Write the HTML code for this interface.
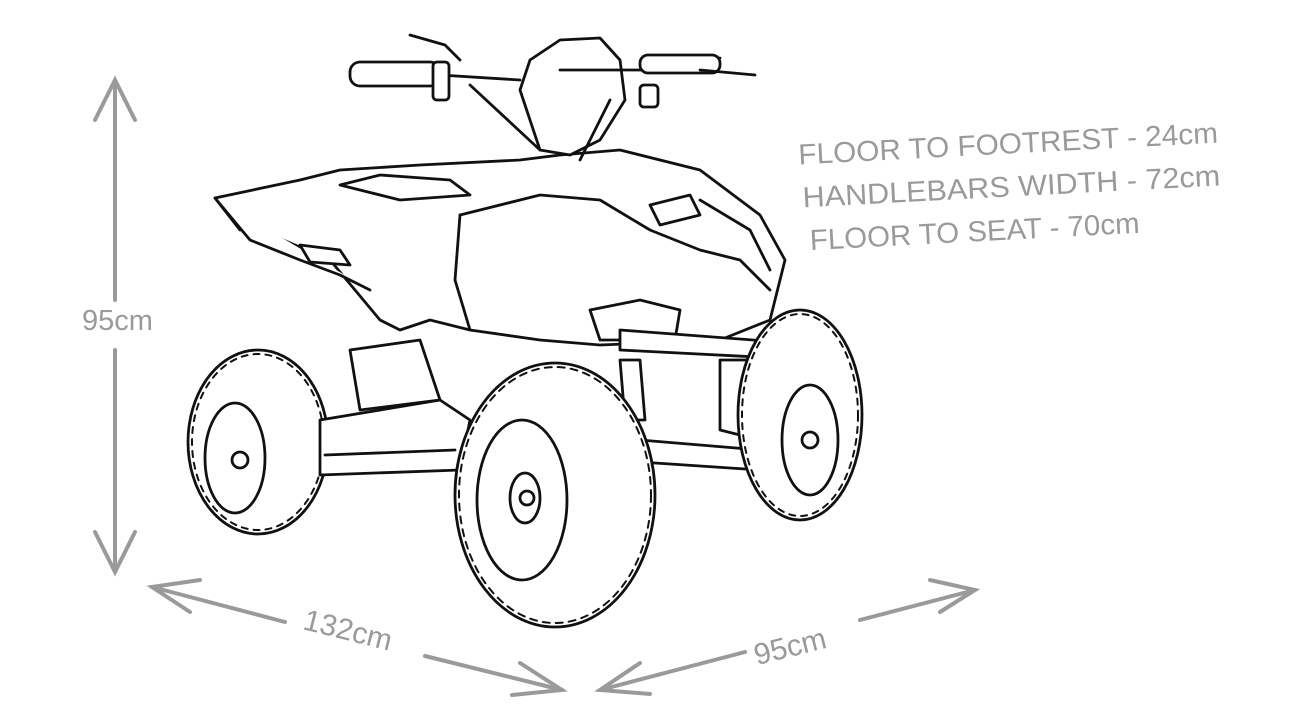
<!DOCTYPE html>
<html><head><meta charset="utf-8"><style>
html,body{margin:0;padding:0;background:#fff;width:1290px;height:719px;overflow:hidden}
svg{display:block}
text{font-family:"Liberation Sans",sans-serif;fill:#9a9a9a}
</style></head><body>
<svg width="1290" height="719" viewBox="0 0 1290 719">
<g stroke="#9a9a9a" stroke-width="4" fill="none" stroke-linecap="round">
<line x1="115" y1="84" x2="115" y2="300"/><line x1="115" y1="350" x2="115" y2="570"/>
<polyline points="95,120 115,80 135,120"/><polyline points="95,532 115,572 135,532"/>
<line x1="152" y1="587" x2="285" y2="622"/><line x1="425" y1="656" x2="562" y2="690"/>
<polyline points="200,580 152,587 190,612"/><polyline points="520,663 562,690 512,695"/>
<line x1="600" y1="690" x2="745" y2="652"/><line x1="860" y1="620" x2="975" y2="590"/>
<polyline points="640,663 600,690 650,694"/><polyline points="930,580 975,590 940,612"/>
</g>
<text x="82" y="330" font-size="29">95cm</text>
<text x="302" y="642" font-size="30" transform="rotate(14 355 635)">132cm</text>
<text x="752" y="654" font-size="30" transform="rotate(-14 800 640)">95cm</text>
<g font-size="29" transform="rotate(-3 1000 180)">
<text x="800" y="154" textLength="420" lengthAdjust="spacingAndGlyphs">FLOOR TO FOOTREST - 24cm</text>
<text x="802" y="197" textLength="418" lengthAdjust="spacingAndGlyphs">HANDLEBARS WIDTH - 72cm</text>
<text x="807" y="240" textLength="330" lengthAdjust="spacingAndGlyphs">FLOOR TO SEAT - 70cm</text>
</g>
<g stroke="#111" stroke-width="2.8" fill="#fff" stroke-linejoin="round" stroke-linecap="round">
<!-- rear left wheel -->
<ellipse cx="258" cy="442" rx="70" ry="92"/>
<ellipse cx="258" cy="442" rx="66" ry="88" fill="none" stroke-dasharray="6 6" stroke-width="2"/>
<ellipse cx="235" cy="458" rx="30" ry="55"/>
<circle cx="240" cy="460" r="8"/>
<!-- body -->
<path d="M215,198 L300,180 L340,170 L420,165 L520,160 L560,155 L620,150 L700,170 L760,215 L785,260 L770,320 L720,340 L600,345 L540,340 L470,330 L430,320 L400,330 L380,320 L330,260 L260,230 L240,230 Z"/>
<path d="M215,198 L250,240 L300,260 L340,275 L370,290"/>
<path d="M300,245 L340,250 L350,265 L310,262 Z"/>
<path d="M460,215 L540,195 L600,200 L650,230 L700,250 L740,260 L770,290"/>
<path d="M460,215 L455,280 L470,330"/>
<path d="M700,200 L750,230 L770,270"/>
<path d="M650,205 L690,195 L700,215 L660,225 Z"/>
<path d="M590,310 L640,300 L680,310 L675,340 L600,340 Z"/>
<path d="M340,185 L380,175 L450,180 L470,195 L400,200 Z"/>
<path d="M320,420 L440,400 L470,420 L460,470 L320,475 Z"/>
<path d="M325,455 L455,450"/>
<path d="M350,350 L420,340 L440,400 L360,410 Z"/>
<path d="M620,330 L820,345 L815,360 L620,350 Z"/>
<path d="M720,360 L790,360 L790,420 L760,440 L720,430 Z"/>
<path d="M640,440 L760,450 L760,470 L640,462 Z"/>
<!-- front right wheel -->
<ellipse cx="800" cy="415" rx="62" ry="105"/>
<ellipse cx="800" cy="415" rx="58" ry="101" fill="none" stroke-dasharray="6 6" stroke-width="2"/>
<ellipse cx="810" cy="440" rx="28" ry="55"/>
<circle cx="810" cy="440" r="8"/>
<path d="M620,360 L640,360 L645,420 L625,420 Z"/>
<!-- front left wheel -->
<ellipse cx="555" cy="495" rx="100" ry="132"/>
<ellipse cx="555" cy="495" rx="96" ry="128" fill="none" stroke-dasharray="7 6" stroke-width="2"/>
<ellipse cx="522" cy="500" rx="45" ry="80"/>
<ellipse cx="525" cy="498" rx="15" ry="25"/>
<circle cx="527" cy="498" r="7"/>
<!-- handlebars -->
<path d="M540,150 L520,90 L530,60 L560,40 L600,38 L620,60 L625,100 L600,140 L570,155 Z"/>
<rect x="350" y="62" width="90" height="24" rx="10"/>
<path d="M440,75 L520,80 M560,70 L650,70 M650,65 L720,58"/>
<rect x="640" y="55" width="80" height="18" rx="8"/>
<path d="M410,35 L445,45 L460,60 M700,70 L755,75"/>
<rect x="433" y="62" width="16" height="38" rx="4"/>
<rect x="640" y="85" width="18" height="22" rx="4"/>
<path d="M470,85 L540,150 M610,100 L580,160"/>
</g>
</svg>
</body></html>
